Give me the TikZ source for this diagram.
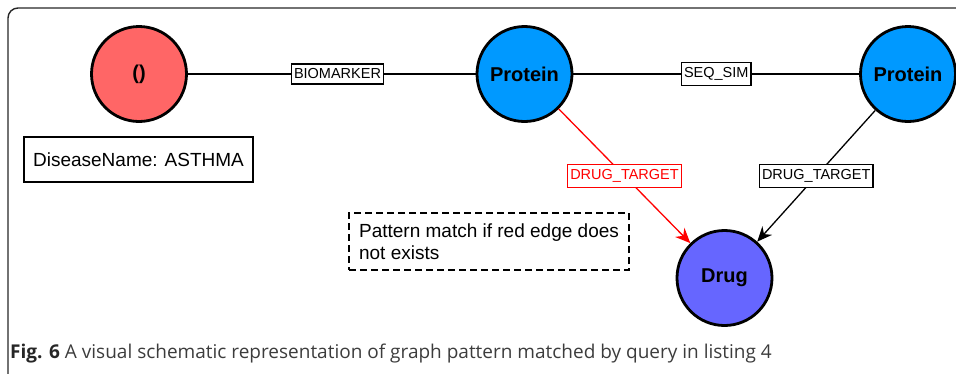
\documentclass[tikz,border=0pt]{standalone}
\usepackage{fontspec}
\setmainfont{Liberation Sans}
\newfontfamily\capfont{Open Sans}
\usetikzlibrary{arrows.meta}
\definecolor{diseasered}{RGB}{255,102,102}
\definecolor{proteinblue}{RGB}{0,153,255}
\definecolor{drugblue}{RGB}{102,102,255}
\definecolor{capgray}{RGB}{60,60,60}
\tikzset{
  entity/.style={circle, draw=black, line width=2.8pt, minimum size=95pt, inner sep=0pt, font=\fontsize{20}{24}\selectfont\bfseries},
  rel/.style={draw=black, line width=1.3pt},
  rellabel/.style={draw=black, fill=white, line width=1.3pt, inner xsep=2.5pt, inner ysep=5pt, font=\fontsize{14.5}{16}\selectfont},
  infobox/.style={draw=black, line width=1.4pt, font=\fontsize{19}{23}\selectfont, align=left},
  tip/.style={-{Stealth[length=15pt,width=13pt]}}
}
\begin{document}
\begin{tikzpicture}[x=1pt,y=-1pt]
\useasboundingbox (0,0) rectangle (956,373);
\begin{scope}
\clip (0,0) rectangle (956,373);
\draw[line width=1.4pt, draw=black!85, rounded corners=10pt] (8,8) rectangle (990,385);
\end{scope}
\node[entity, fill=diseasered] (dis) at (139,74) {()};
\node[entity, fill=proteinblue] (p1) at (524.5,74) {Protein};
\node[entity, fill=proteinblue] (p2) at (908,74) {Protein};
\node[entity, fill=drugblue] (drug) at (724.5,278) {Drug};
\draw[rel] (dis) -- node[rellabel, pos=0.52] (l1) {BIOMARKER} (p1);
\draw[rel] (p1) -- node[rellabel] (l2) {SEQ\_SIM} (p2);
\draw[rel, red, tip] (p1) -- node[rellabel, draw=red, text=red] (l3) {DRUG\_TARGET} (drug);
\draw[rel, tip] (p2) -- node[rellabel] (l4) {DRUG\_TARGET} (drug);
\node[infobox, minimum width=229pt, minimum height=45pt] (name) at (138.5,159.5) {DiseaseName: ASTHMA};
\node[infobox, dashed, dash pattern=on 7pt off 4pt, minimum width=280pt, minimum height=57pt] (note) at (489,241.5) {Pattern match if red edge does\\[-1pt]not exists};
\node[anchor=base west, inner sep=0pt, text=capgray, font=\capfont\fontsize{19}{22}\selectfont] (cap) at (10,358) {{\bfseries\color{black!85}Fig. 6} A visual schematic representation of graph pattern matched by query in listing 4};
\end{tikzpicture}
\end{document}
